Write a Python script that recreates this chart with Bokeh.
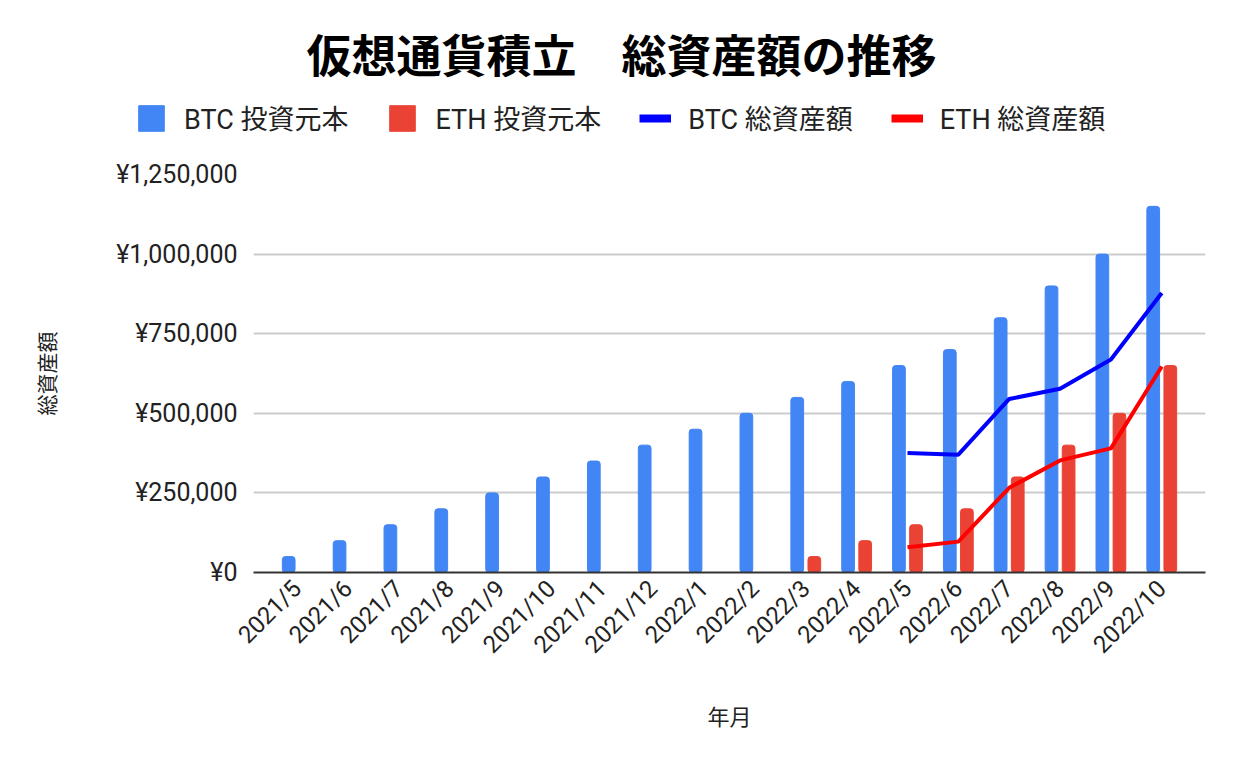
from bokeh.plotting import figure
from bokeh.models import (FactorRange, Range1d, FixedTicker, Legend, LegendItem,
                          ColumnDataSource, Label)
from bokeh.layouts import column
from bokeh.transform import dodge
from bokeh.embed import file_html
from bokeh.resources import INLINE
import math

months = ["2021/5", "2021/6", "2021/7", "2021/8", "2021/9", "2021/10", "2021/11",
          "2021/12", "2022/1", "2022/2", "2022/3", "2022/4", "2022/5", "2022/6",
          "2022/7", "2022/8", "2022/9", "2022/10"]
btc_invested = [50000, 100000, 150000, 200000, 250000, 300000, 350000, 400000,
                450000, 500000, 550000, 600000, 650000, 700000, 800000, 900000,
                1000000, 1150000]
eth_invested = [0, 0, 0, 0, 0, 0, 0, 0, 0, 0, 50000, 100000, 150000, 200000,
                300000, 400000, 500000, 650000]
line_months = ["2022/5", "2022/6", "2022/7", "2022/8", "2022/9", "2022/10"]
btc_total = [375000, 370000, 545000, 577000, 669000, 878000]
eth_total = [79000, 97000, 266000, 352000, 390000, 647000]
y_ticks = [0, 250000, 500000, 750000, 1000000, 1250000]
y_tick_labels = ["¥0", "¥250,000", "¥500,000", "¥750,000", "¥1,000,000", "¥1,250,000"]

title_text = "仮想通貨積立\u3000総資産額の推移"
series_names = ["BTC 投資元本", "ETH 投資元本", "BTC 総資産額", "ETH 総資産額"]

FONT = "Roboto, 'Noto Sans CJK JP', sans-serif"
BLUE_BAR = "#4285f4"
RED_BAR = "#ea4335"
BLUE_LINE = "#0000ff"
RED_LINE = "#ff0000"
TEXT = "#222222"

W = 1226
HEADER_H = 150
MAIN_H = 601

bars = ColumnDataSource(dict(month=months, btc=btc_invested, eth=eth_invested))
lines = ColumnDataSource(dict(month=line_months, btc=btc_total, eth=eth_total))

# ---------------- header: title + legend ----------------
# its y range lies above every data value, so the proxy glyphs stay out of view
hdr = figure(x_range=FactorRange(factors=months), y_range=Range1d(2000000, 3000000),
             width=W, height=HEADER_H, output_backend="svg", toolbar_location=None,
             x_axis_location=None, y_axis_location=None, min_border=0)
hdr.outline_line_color = None
hdr.grid.visible = False
hdr.background_fill_color = "white"
hdr.border_fill_color = "white"

hdr.add_layout(Label(x=621, y=HEADER_H - 57, x_units="screen", y_units="screen",
                     text=title_text, text_align="center", text_baseline="middle",
                     text_font=FONT, text_font_size="45px",
                     text_font_style="bold", text_color="#000000"))

pb = hdr.vbar(x="month", top="btc", width=0.25, source=bars, color=BLUE_BAR)
pe = hdr.vbar(x="month", top="eth", width=0.25, source=bars, color=RED_BAR)
plb = hdr.line(x="month", y="btc", source=lines, line_color=BLUE_LINE, line_width=8)
ple = hdr.line(x="month", y="eth", source=lines, line_color=RED_LINE, line_width=8)

legend = Legend(items=[LegendItem(label=series_names[0], renderers=[pb]),
                       LegendItem(label=series_names[1], renderers=[pe]),
                       LegendItem(label=series_names[2], renderers=[plb]),
                       LegendItem(label=series_names[3], renderers=[ple])],
                orientation="horizontal", location=(135, 13),
                label_text_font=FONT, label_text_font_size="27px",
                label_text_color=TEXT, glyph_width=32, glyph_height=32,
                label_standoff=17, spacing=38, padding=0, margin=0,
                border_line_color=None, background_fill_alpha=0)
hdr.add_layout(legend)

# ---------------- main chart ----------------
xr = FactorRange(factors=months, range_padding=0.36, range_padding_units="absolute")
p = figure(x_range=xr, y_range=Range1d(0, 1250000), width=W, height=MAIN_H,
           output_backend="svg", toolbar_location=None,
           min_border_left=253, min_border_right=21, min_border_top=24,
           min_border_bottom=179)
p.outline_line_color = None
p.background_fill_color = "white"
p.border_fill_color = "white"

# keep the header's frame independent of the chart's frame
for fig in (hdr, p):
    if "frame_align" in fig.properties():
        fig.frame_align = False

p.vbar(x=dodge("month", -0.168, range=xr), top="btc", width=0.25,
       source=bars, color=BLUE_BAR, border_radius=3)
p.vbar(x=dodge("month", 0.168, range=xr), top="eth", width=0.25,
       source=bars, color=RED_BAR, border_radius=3)
p.line(x="month", y="btc", source=lines, line_color=BLUE_LINE, line_width=4)
p.line(x="month", y="eth", source=lines, line_color=RED_LINE, line_width=4)

# y axis
p.yaxis.ticker = FixedTicker(ticks=y_ticks)
p.yaxis.major_label_overrides = {t: s for t, s in zip(y_ticks, y_tick_labels)}
p.yaxis.axis_line_color = None
p.yaxis.major_tick_line_color = None
p.yaxis.minor_tick_line_color = None
p.yaxis.major_label_text_font = FONT
p.yaxis.major_label_text_font_size = "25px"
p.yaxis.major_label_text_color = TEXT
p.yaxis.major_label_standoff = 10
p.yaxis.axis_label = "総資産額"
p.yaxis.axis_label_text_font = FONT
p.yaxis.axis_label_text_font_size = "21px"
p.yaxis.axis_label_text_font_style = "normal"
p.yaxis.axis_label_text_color = TEXT
p.yaxis.axis_label_standoff = 53

# x axis
p.xaxis.axis_line_color = "#333333"
p.xaxis.axis_line_width = 2
p.xaxis.major_tick_line_color = None
p.xaxis.minor_tick_line_color = None
p.xaxis.major_label_orientation = math.pi / 4
p.xaxis.major_label_text_font = FONT
p.xaxis.major_label_text_font_size = "24px"
p.xaxis.major_label_text_color = TEXT
p.xaxis.major_label_standoff = 6
p.xaxis.axis_label = "年月"
p.xaxis.axis_label_text_font = FONT
p.xaxis.axis_label_text_font_size = "22px"
p.xaxis.axis_label_text_font_style = "normal"
p.xaxis.axis_label_text_color = TEXT
p.xaxis.axis_label_standoff = 33

p.xgrid.grid_line_color = None
p.ygrid.grid_line_color = "#cccccc"
p.ygrid.grid_line_width = 2

layout = column(hdr, p, spacing=0)
open("out.html", "w").write(file_html(layout, INLINE))
